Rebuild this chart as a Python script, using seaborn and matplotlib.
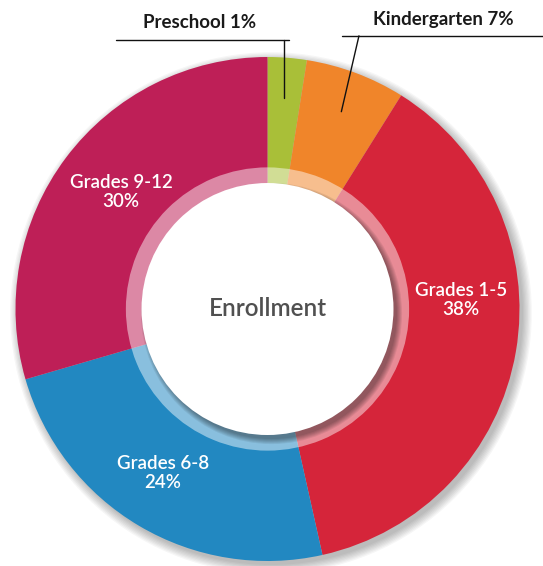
import numpy as np
import matplotlib.pyplot as plt
import seaborn as sns
from matplotlib.patches import Circle, Wedge

# slice sizes as drawn in the picture (percent of the ring)
categories = ['Preschool', 'Kindergarten', 'Grades 1-5', 'Grades 6-8', 'Grades 9-12']
shares = [2.5, 6.4, 37.6, 24.0, 29.5]
# percentages printed on the labels
pct_text = ['1%', '7%', '38%', '24%', '30%']
colors = ['#A9BF38', '#F0852A', '#D5253A', '#2288C1', '#BE1F57']

sns.set_theme(style='white')
plt.rcParams['font.family'] = ['Lato', 'DejaVu Sans']

fig = plt.figure(figsize=(5.43, 5.66), dpi=100)
ax = fig.add_axes([0, 0, 1, 1])

# soft drop shadow under the donut
for k in range(8):
    ax.add_patch(Circle((0.014, -0.016), 1.0 + 0.005 * k, color='black',
                        alpha=0.035, lw=0, zorder=0))

wedges, _ = ax.pie(shares, colors=colors, startangle=90, counterclock=False,
                   radius=1.0, wedgeprops=dict(linewidth=0))
for w in wedges:
    w.set_zorder(1)

# pie() resets the limits, so set them afterwards
ax.set_aspect('auto')
ax.set_xlim(-1.0615, 1.0933)
ax.set_ylim(-1.0198, 1.2262)
ax.axis('off')

# translucent inner ring
ax.add_patch(Wedge((0, 0), 0.562, 0, 360, width=0.065, color='white',
                   alpha=0.47, lw=0, zorder=2))
# shadow cast by the centre disc on the ring (lower right only)
for k in range(6):
    ax.add_patch(Circle((0.016, -0.018), 0.498 + 0.004 * k, color='black',
                        alpha=0.07, lw=0, zorder=3))
ax.add_patch(Circle((0, 0), 0.5, color='white', lw=0, zorder=4))
ax.text(0, 0.002, 'Enrollment', ha='center', va='center', fontsize=17.5,
        color='#505050', fontweight='semibold', zorder=5)

# white labels inside the big slices
inner_pos = {'Grades 1-5': (0.768, 0.036), 'Grades 6-8': (-0.415, -0.651),
             'Grades 9-12': (-0.581, 0.464)}
for name, pct in zip(categories, pct_text):
    if name in inner_pos:
        x, y = inner_pos[name]
        ax.text(x, y, f'{name}\n{pct}', ha='center', va='center', fontsize=13.5,
                color='white', fontweight='semibold', linespacing=1.1, zorder=5)

# leader lines for the two small slices
cum = np.cumsum([0] + shares)
mid = [90 - (cum[i] + shares[i] / 2) * 3.6 for i in range(len(shares))]

a = np.deg2rad(mid[0])
px, py = 0.84 * np.cos(a), 0.84 * np.sin(a)
ax.plot([px, px], [py, 1.067], color='#111111', lw=1, zorder=6)
ax.plot([-0.60, 0.087], [1.067, 1.067], color='#111111', lw=1, zorder=6)
ax.text(-0.268, 1.138, f'{categories[0]} {pct_text[0]}', ha='center', va='center',
        fontsize=13.5, fontweight='bold', color='#1a1a1a')

a = np.deg2rad(mid[1])
kx, ky = 0.836 * np.cos(a), 0.836 * np.sin(a)
ax.plot([kx, 0.363], [ky, 1.084], color='#111111', lw=1, zorder=6)
ax.plot([0.296, 1.10], [1.084, 1.084], color='#111111', lw=1, zorder=6)
ax.text(0.696, 1.150, f'{categories[1]} {pct_text[1]}', ha='center', va='center',
        fontsize=13.5, fontweight='bold', color='#1a1a1a')

fig.savefig('out.png', dpi=100)
